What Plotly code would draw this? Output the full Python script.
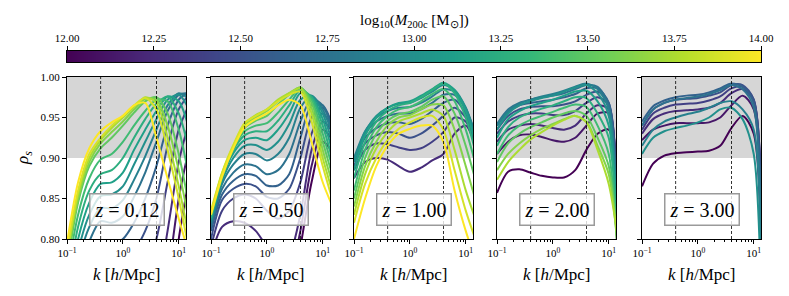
import plotly.graph_objects as go
from plotly.colors import sample_colorscale

# ---------------- data ----------------
K = [0.1, 0.158, 0.251, 0.398, 0.631, 1.0, 1.585, 2.512, 3.981, 6.31, 10.0, 14.0]
MASSES = [12.0, 12.125, 12.25, 12.375, 12.5, 12.625, 12.75, 12.875, 13.0,
          13.125, 13.25, 13.375, 13.5, 13.625, 13.75, 13.875, 14.0]
REDSHIFT_LABELS = ["0.12", "0.50", "1.00", "2.00", "3.00"]
K_SCALES = [0.4, 4.0]
RHO_THRESHOLD = 0.9
CBAR_TICKS = [12.0, 12.25, 12.5, 12.75, 13.0, 13.25, 13.5, 13.75, 14.0]
X_TICKS = [0.1, 1, 10]
X_TICKTEXT = ["10<sup>−1</sup>", "10<sup>0</sup>", "10<sup>1</sup>"]
X_MINOR = [0.2, 0.3, 0.4, 0.5, 0.6, 0.7, 0.8, 0.9, 2, 3, 4, 5, 6, 7, 8, 9]
Y_TICKS = [0.80, 0.85, 0.90, 0.95, 1.00]

# z = 0.12  (masses 12.0 .. 14.0)
M_Z012 = MASSES
RHO_Z012 = [
    [0.40, 0.45, 0.48, 0.50, 0.51, 0.52, 0.535, 0.56, 0.60, 0.69, 0.80, 0.86],
    [0.45, 0.50, 0.54, 0.56, 0.57, 0.58, 0.595, 0.62, 0.66, 0.75, 0.85, 0.90],
    [0.50, 0.56, 0.60, 0.63, 0.64, 0.65, 0.665, 0.69, 0.73, 0.81, 0.895, 0.935],
    [0.55, 0.62, 0.67, 0.70, 0.71, 0.72, 0.735, 0.76, 0.80, 0.87, 0.935, 0.96],
    [0.60, 0.68, 0.73, 0.76, 0.765, 0.77, 0.785, 0.81, 0.85, 0.915, 0.96, 0.975],
    [0.64, 0.72, 0.77, 0.795, 0.795, 0.80, 0.82, 0.85, 0.89, 0.94, 0.972, 0.98],
    [0.67, 0.75, 0.797, 0.822, 0.82, 0.828, 0.852, 0.882, 0.92, 0.958, 0.978, 0.98],
    [0.69, 0.77, 0.815, 0.838, 0.838, 0.848, 0.873, 0.902, 0.935, 0.965, 0.98, 0.975],
    [0.71, 0.785, 0.83, 0.853, 0.855, 0.865, 0.892, 0.92, 0.948, 0.972, 0.978, 0.965],
    [0.725, 0.80, 0.845, 0.868, 0.87, 0.882, 0.91, 0.935, 0.958, 0.976, 0.97, 0.945],
    [0.74, 0.815, 0.86, 0.88, 0.885, 0.90, 0.925, 0.948, 0.967, 0.976, 0.955, 0.92],
    [0.755, 0.83, 0.875, 0.898, 0.905, 0.92, 0.94, 0.958, 0.972, 0.97, 0.935, 0.89],
    [0.765, 0.845, 0.89, 0.912, 0.925, 0.94, 0.956, 0.97, 0.975, 0.955, 0.905, 0.855],
    [0.775, 0.85, 0.895, 0.918, 0.932, 0.945, 0.96, 0.973, 0.972, 0.94, 0.885, 0.835],
    [0.78, 0.855, 0.90, 0.922, 0.937, 0.95, 0.963, 0.975, 0.968, 0.925, 0.865, 0.815],
    [0.785, 0.86, 0.905, 0.925, 0.94, 0.952, 0.965, 0.974, 0.96, 0.91, 0.85, 0.80],
    [0.795, 0.87, 0.912, 0.933, 0.944, 0.952, 0.965, 0.968, 0.925, 0.875, 0.825, 0.79],
]

# z = 0.50  (masses 12.0 .. 14.0)
M_Z050 = MASSES
RHO_Z050 = [
    [0.70, 0.72, 0.73, 0.73, 0.72, 0.70, 0.69, 0.72, 0.79, 0.87, 0.92, 0.91],
    [0.72, 0.75, 0.76, 0.76, 0.75, 0.73, 0.72, 0.75, 0.81, 0.89, 0.935, 0.925],
    [0.78, 0.815, 0.822, 0.82, 0.81, 0.79, 0.77, 0.78, 0.83, 0.91, 0.945, 0.935],
    [0.79, 0.835, 0.85, 0.855, 0.85, 0.835, 0.825, 0.835, 0.87, 0.93, 0.955, 0.94],
    [0.80, 0.848, 0.862, 0.868, 0.865, 0.852, 0.85, 0.862, 0.90, 0.95, 0.962, 0.945],
    [0.81, 0.855, 0.872, 0.88, 0.878, 0.866, 0.866, 0.88, 0.925, 0.965, 0.965, 0.945],
    [0.815, 0.862, 0.882, 0.892, 0.89, 0.88, 0.885, 0.905, 0.945, 0.973, 0.965, 0.94],
    [0.82, 0.868, 0.892, 0.905, 0.905, 0.897, 0.905, 0.925, 0.962, 0.977, 0.96, 0.935],
    [0.822, 0.872, 0.9, 0.915, 0.916, 0.91, 0.92, 0.942, 0.972, 0.977, 0.955, 0.925],
    [0.825, 0.875, 0.906, 0.922, 0.925, 0.922, 0.935, 0.955, 0.98, 0.976, 0.948, 0.915],
    [0.826, 0.877, 0.91, 0.928, 0.933, 0.933, 0.946, 0.965, 0.984, 0.975, 0.94, 0.905],
    [0.828, 0.878, 0.912, 0.933, 0.94, 0.943, 0.956, 0.972, 0.986, 0.972, 0.93, 0.895],
    [0.83, 0.879, 0.913, 0.937, 0.946, 0.952, 0.966, 0.978, 0.987, 0.968, 0.92, 0.885],
    [0.831, 0.88, 0.914, 0.94, 0.95, 0.958, 0.97, 0.98, 0.987, 0.962, 0.91, 0.875],
    [0.832, 0.881, 0.915, 0.942, 0.953, 0.96, 0.972, 0.98, 0.986, 0.955, 0.90, 0.865],
    [0.835, 0.882, 0.916, 0.943, 0.952, 0.96, 0.97, 0.978, 0.982, 0.945, 0.89, 0.855],
    [0.83, 0.877, 0.912, 0.938, 0.948, 0.955, 0.965, 0.972, 0.965, 0.92, 0.87, 0.845],
]

# z = 1.00  (masses 12.25 .. 14.0)
M_Z100 = MASSES[2:]
RHO_Z100 = [
    [0.875, 0.895, 0.90, 0.898, 0.89, 0.883, 0.888, 0.897, 0.905, 0.93, 0.94, 0.92],
    [0.885, 0.91, 0.918, 0.917, 0.913, 0.91, 0.912, 0.92, 0.932, 0.95, 0.945, 0.92],
    [0.89, 0.918, 0.928, 0.932, 0.93, 0.925, 0.93, 0.94, 0.952, 0.962, 0.95, 0.925],
    [0.895, 0.925, 0.937, 0.943, 0.944, 0.942, 0.948, 0.958, 0.968, 0.972, 0.955, 0.93],
    [0.898, 0.93, 0.945, 0.952, 0.955, 0.955, 0.96, 0.968, 0.978, 0.978, 0.96, 0.935],
    [0.90, 0.933, 0.95, 0.958, 0.962, 0.963, 0.968, 0.976, 0.985, 0.982, 0.962, 0.935],
    [0.895, 0.932, 0.952, 0.962, 0.967, 0.968, 0.974, 0.982, 0.99, 0.984, 0.962, 0.93],
    [0.885, 0.928, 0.95, 0.962, 0.968, 0.97, 0.977, 0.985, 0.993, 0.984, 0.958, 0.925],
    [0.875, 0.92, 0.945, 0.958, 0.965, 0.968, 0.975, 0.984, 0.992, 0.98, 0.95, 0.915],
    [0.86, 0.91, 0.938, 0.952, 0.96, 0.963, 0.97, 0.979, 0.985, 0.97, 0.935, 0.90],
    [0.85, 0.90, 0.93, 0.946, 0.954, 0.957, 0.963, 0.972, 0.976, 0.955, 0.915, 0.88],
    [0.84, 0.89, 0.92, 0.94, 0.95, 0.953, 0.96, 0.966, 0.965, 0.935, 0.89, 0.855],
    [0.83, 0.88, 0.912, 0.932, 0.945, 0.95, 0.955, 0.96, 0.952, 0.91, 0.86, 0.83],
    [0.82, 0.868, 0.90, 0.922, 0.936, 0.944, 0.95, 0.952, 0.935, 0.885, 0.835, 0.805],
    [0.80, 0.85, 0.89, 0.915, 0.93, 0.936, 0.94, 0.94, 0.92, 0.86, 0.81, 0.78],
]

# z = 2.00  (masses 12.0 .. 13.75)
M_Z200 = MASSES[:15]
RHO_Z200 = [
    [0.857, 0.883, 0.886, 0.882, 0.878, 0.876, 0.876, 0.885, 0.91, 0.93, 0.935, 0.80],
    [0.905, 0.92, 0.928, 0.929, 0.926, 0.922, 0.92, 0.925, 0.94, 0.955, 0.955, 0.81],
    [0.92, 0.935, 0.94, 0.942, 0.94, 0.937, 0.935, 0.94, 0.955, 0.965, 0.96, 0.82],
    [0.93, 0.945, 0.952, 0.955, 0.955, 0.953, 0.953, 0.958, 0.968, 0.975, 0.965, 0.825],
    [0.935, 0.952, 0.96, 0.963, 0.964, 0.964, 0.966, 0.97, 0.978, 0.982, 0.968, 0.83],
    [0.94, 0.957, 0.965, 0.968, 0.97, 0.972, 0.975, 0.979, 0.986, 0.986, 0.968, 0.83],
    [0.942, 0.96, 0.968, 0.972, 0.975, 0.977, 0.98, 0.985, 0.99, 0.988, 0.965, 0.825],
    [0.94, 0.958, 0.967, 0.972, 0.976, 0.979, 0.983, 0.988, 0.992, 0.985, 0.96, 0.82],
    [0.935, 0.955, 0.965, 0.97, 0.974, 0.977, 0.982, 0.987, 0.99, 0.98, 0.952, 0.815],
    [0.925, 0.948, 0.958, 0.964, 0.968, 0.972, 0.977, 0.982, 0.983, 0.97, 0.94, 0.81],
    [0.915, 0.938, 0.95, 0.956, 0.961, 0.965, 0.97, 0.975, 0.974, 0.955, 0.925, 0.805],
    [0.905, 0.928, 0.94, 0.947, 0.952, 0.957, 0.962, 0.966, 0.963, 0.94, 0.905, 0.80],
    [0.895, 0.918, 0.93, 0.938, 0.944, 0.95, 0.955, 0.958, 0.952, 0.925, 0.89, 0.80],
    [0.885, 0.905, 0.918, 0.928, 0.936, 0.942, 0.948, 0.952, 0.945, 0.915, 0.88, 0.80],
    [0.873, 0.895, 0.91, 0.923, 0.932, 0.94, 0.947, 0.952, 0.944, 0.91, 0.868, 0.81],
]

# z = 3.00  (masses 12.0 .. 13.0)
M_Z300 = MASSES[:9]
RHO_Z300 = [
    [0.865, 0.893, 0.903, 0.906, 0.907, 0.908, 0.909, 0.915, 0.937, 0.952, 0.93, 0.68],
    [0.922, 0.935, 0.94, 0.943, 0.943, 0.943, 0.944, 0.95, 0.965, 0.977, 0.96, 0.68],
    [0.93, 0.948, 0.955, 0.958, 0.959, 0.96, 0.962, 0.968, 0.98, 0.985, 0.97, 0.68],
    [0.935, 0.955, 0.962, 0.966, 0.967, 0.968, 0.971, 0.976, 0.986, 0.988, 0.972, 0.68],
    [0.94, 0.96, 0.968, 0.972, 0.973, 0.974, 0.977, 0.981, 0.99, 0.99, 0.972, 0.68],
    [0.945, 0.964, 0.971, 0.975, 0.977, 0.978, 0.981, 0.986, 0.992, 0.988, 0.968, 0.68],
    [0.94, 0.96, 0.968, 0.972, 0.974, 0.976, 0.979, 0.984, 0.99, 0.985, 0.962, 0.68],
    [0.915, 0.935, 0.945, 0.95, 0.954, 0.957, 0.962, 0.968, 0.97, 0.96, 0.935, 0.68],
    [0.905, 0.925, 0.933, 0.937, 0.94, 0.944, 0.95, 0.96, 0.962, 0.948, 0.905, 0.68],
]

PANELS = [(M_Z012, RHO_Z012), (M_Z050, RHO_Z050), (M_Z100, RHO_Z100),
          (M_Z200, RHO_Z200), (M_Z300, RHO_Z300)]

# ---------------- layout geometry (page pixels) ----------------
PAGE_W, PAGE_H = 789, 296
OFF = 8                      # default body margin of the html page
W, H = PAGE_W - OFF, PAGE_H - OFF
LEFTS = [67, 211, 354, 497, 642]
PW = 119
TOP, BOT = 77, 239
FONT = "Liberation Serif"

def px_x(p):
    return (p - OFF) / W

def px_y(p):
    return 1 - (p - OFF) / H

fig = go.Figure()
layout = dict(width=W, height=H, margin=dict(l=0, r=0, t=0, b=0, autoexpand=False),
              paper_bgcolor="white", plot_bgcolor="white",
              showlegend=False, font=dict(family=FONT, color="black", size=11))
shapes, annotations = [], []

for i, (masses, rhos) in enumerate(PANELS):
    n = "" if i == 0 else str(i + 1)
    xa, ya = "x" + n, "y" + n
    for m, rho in zip(masses, rhos):
        col = sample_colorscale("Viridis", [(m - 12.0) / 2.0])[0]
        fig.add_trace(go.Scatter(x=K, y=rho, mode="lines", xaxis=xa, yaxis=ya,
                                 line=dict(color=col, width=2, shape="spline", smoothing=0.8),
                                 hoverinfo="skip"))
    for ks in K_SCALES:
        fig.add_trace(go.Scatter(x=[ks, ks], y=[Y_TICKS[0], Y_TICKS[-1]], mode="lines",
                                 xaxis=xa, yaxis=ya,
                                 line=dict(color="black", width=0.8, dash="3px,2px"),
                                 hoverinfo="skip"))
    layout["xaxis" + n] = dict(
        domain=[px_x(LEFTS[i]), px_x(LEFTS[i] + PW)], anchor=ya, type="log",
        range=[-1, 1.13], tickvals=X_TICKS, ticktext=X_TICKTEXT, automargin=False,
        ticks="outside", ticklen=4, tickwidth=0.8, tickcolor="black",
        minor=dict(tickvals=X_MINOR, ticks="outside", ticklen=2, tickwidth=0.6, tickcolor="black"),
        showline=True, linecolor="black", linewidth=1, mirror=True,
        showgrid=False, zeroline=False, tickfont=dict(size=11, family=FONT))
    layout["yaxis" + n] = dict(
        domain=[px_y(BOT), px_y(TOP)], anchor=xa, range=[0.8, 1.0], automargin=False,
        tickvals=Y_TICKS, tickformat=".2f", showticklabels=(i == 0),
        ticks="outside", ticklen=4, tickwidth=0.8, tickcolor="black",
        showline=True, linecolor="black", linewidth=1, mirror=True,
        showgrid=False, zeroline=False, tickfont=dict(size=11, family=FONT))
    shapes.append(dict(type="rect", xref=xa + " domain", yref=ya, x0=0, x1=1,
                       y0=RHO_THRESHOLD, y1=Y_TICKS[-1], fillcolor="#d6d6d6",
                       line=dict(width=0), layer="below"))
    annotations.append(dict(xref=xa + " domain", yref=ya + " domain", x=0.5, y=0.185,
                            xanchor="center", yanchor="middle",
                            text="<i>z</i> = " + REDSHIFT_LABELS[i], showarrow=False,
                            font=dict(size=20, family=FONT, color="black"),
                            bgcolor="rgba(255,255,255,0.8)", bordercolor="#9a9a9a",
                            borderwidth=1.5, borderpad=4))
    annotations.append(dict(xref="paper", yref="paper",
                            x=px_x(LEFTS[i] + PW / 2), y=px_y(274),
                            xanchor="center", yanchor="middle",
                            text="<i>k</i> [<i>h</i>/Mpc]", showarrow=False,
                            font=dict(size=17, family=FONT, color="black")))

annotations.append(dict(xref="paper", yref="paper", x=px_x(24), y=px_y(158),
                        xanchor="center", yanchor="middle",
                        text="<i>ρ</i><sub><i>s</i></sub>", textangle=-90, showarrow=False,
                        font=dict(size=17, family=FONT, color="black")))
annotations.append(dict(xref="paper", yref="paper", x=px_x(414), y=px_y(21),
                        xanchor="center", yanchor="middle",
                        text="log<sub>10</sub>(<i>M</i><sub>200c</sub> [M<sub>⊙</sub>])",
                        showarrow=False, font=dict(size=15, family=FONT, color="black")))

# ---------------- colorbar (heatmap strip with ticks on top) ----------------
fig.add_trace(go.Heatmap(x=CBAR_TICKS, y=[0], z=[CBAR_TICKS], colorscale="Viridis",
                         zmin=12.0, zmax=14.0, zsmooth="best", showscale=False,
                         xaxis="x6", yaxis="y6", hoverinfo="skip"))
layout["xaxis6"] = dict(domain=[px_x(LEFTS[0]), px_x(LEFTS[-1] + PW)], anchor="y6",
                        range=[12.0, 14.0], side="top", tickvals=CBAR_TICKS, tickformat=".2f",
                        ticks="outside", ticklen=4, tickwidth=0.8, tickcolor="black",
                        automargin=False,
                        showline=True, linecolor="black", linewidth=1, mirror=True,
                        showgrid=False, zeroline=False, tickfont=dict(size=11, family=FONT))
layout["yaxis6"] = dict(domain=[px_y(62), px_y(51)], anchor="x6", range=[-0.5, 0.5],
                        showticklabels=False, ticks="", showline=True, linecolor="black",
                        automargin=False,
                        linewidth=1, mirror=True, showgrid=False, zeroline=False)

layout["shapes"] = shapes
layout["annotations"] = annotations
fig.update_layout(**layout)
fig.write_html("out.html")
